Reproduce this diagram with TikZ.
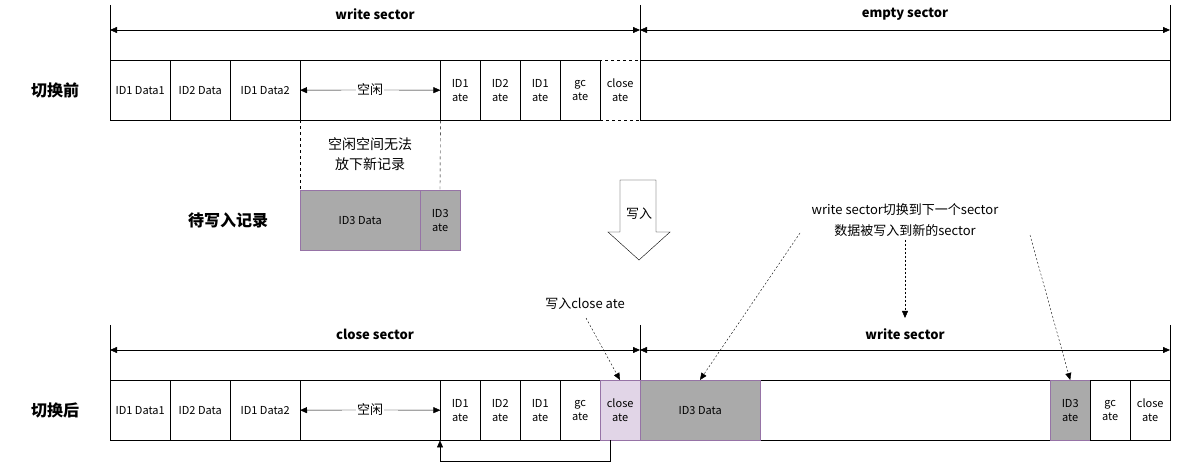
\documentclass[tikz,border=0pt]{standalone}
\usepackage{fontspec}
\setmainfont{Noto Sans CJK SC}
\usetikzlibrary{arrows.meta}
\definecolor{pur}{HTML}{9673A6}
\definecolor{lpur}{HTML}{E1D5E7}
\definecolor{gr}{HTML}{AAAAAA}
\begin{document}
\begin{tikzpicture}[x=1pt,y=-1pt,
  cell/.style={draw,anchor=north west,minimum height=60pt,inner sep=0pt,align=center,font=\fontsize{11}{14}\selectfont},
  gcell/.style={cell,fill=gr,draw=pur},
  tip/.style={-{Triangle[length=7pt,width=6pt]}},
  dim/.style={{Triangle[length=7pt,width=6pt]}-{Triangle[length=7pt,width=6pt]}},
  lab/.style={font=\fontsize{13}{15}\selectfont\bfseries},
  big/.style={font=\fontsize{16}{18}\selectfont\bfseries},
  txt/.style={font=\fontsize{13}{15}\selectfont,align=center},
  dot/.style={dash pattern=on 2pt off 2pt,-{Triangle[length=7pt,width=6pt]}}]
\useasboundingbox (0,0) rectangle (1181,470);
\foreach \r/\y in {a/60,b/380}{
  \node[cell,minimum width=60pt] (\r1) at (110,\y) {ID1 Data1};
  \node[cell,minimum width=60pt] (\r2) at (170,\y) {ID2 Data};
  \node[cell,minimum width=70pt] (\r3) at (230,\y) {ID1 Data2};
  \node[cell,minimum width=140pt] (\r4) at (300,\y) {};
  \node[cell,minimum width=40pt] (\r5) at (440,\y) {ID1\\ate};
  \node[cell,minimum width=40pt] (\r6) at (480,\y) {ID2\\ate};
  \node[cell,minimum width=40pt] (\r7) at (520,\y) {ID1\\ate};
  \node[cell,minimum width=40pt] (\r8) at (560,\y) {gc\\ate};
  \node[txt,fill=white,inner sep=1pt] (\r f) at (370,\y+30) {空闲};
  \draw[tip] (\r f.west) -- (\r4.west);
  \draw[tip] (\r f.east) -- (\r4.east);
}
\node[cell,minimum width=40pt,dashed] (a9) at (600,60) {close\\ate};
\node[cell,minimum width=530pt] (a10) at (640,60) {};
\node[cell,minimum width=40pt,fill=lpur,draw=pur] (b9) at (600,380) {close\\ate};
\node[cell,minimum width=530pt] (b10) at (640,380) {};
\node[gcell,minimum width=120pt] (b11) at (640,380) {ID3 Data};
\node[gcell,minimum width=40pt] (b12) at (1050,380) {ID3\\ate};
\node[cell,minimum width=40pt] (b13) at (1090,380) {gc\\ate};
\node[cell,minimum width=40pt,dashed] (b14) at (1130,380) {close\\ate};
% dimension lines
\foreach \y/\t in {0/a,320/b}{
  \coordinate (\t L) at (110,\y+5); \coordinate (\t M) at (640,\y+5); \coordinate (\t R) at (1170,\y+5);
  \coordinate (\t LA) at (110,\y+30); \coordinate (\t MA) at (640,\y+30); \coordinate (\t RA) at (1170,\y+30);
  \draw (\t L) -- (110,\y+60); \draw (\t M) -- (640,\y+60); \draw (\t R) -- (1170,\y+60);
  \draw[dim] (\t LA) -- (\t MA);
  \draw[dim] (\t MA) -- (\t RA);
}
\node[lab] (t1) at (375,14) {write sector};
\node[lab] (t2) at (905,14) {empty sector};
\node[lab] (t3) at (375,334) {close sector};
\node[lab] (t4) at (905,334) {write sector};
\node[big] (s1) at (55,90) {切换前};
\node[big] (s2) at (228,220) {待写入记录};
\node[big] (s3) at (55,410) {切换后};
% pending record
\node[gcell,minimum width=120pt] (p1) at (300,190) {ID3 Data};
\node[gcell,minimum width=40pt] (p2) at (420,190) {ID3\\ate};
\draw[dashed] (a4.south west) -- (p1.north west);
\draw[dashed] (a4.south east) -- (440,190);
\node[txt,font=\fontsize{14}{20}\selectfont] (nt) at (370,154) {空闲空间无法\\放下新记录};
% big arrow
\draw (620,180) -- (656,180) -- (656,232) -- (670,232) -- (639,260) -- (608,232) -- (620,232) -- cycle;
\node[txt] (bt) at (639,214) {写入};
\node[txt,font=\fontsize{13}{21}\selectfont] (info) at (905,220) {write sector切换到下一个sector\\数据被写入到新的sector};
\node[txt] (wc) at (585,304) {写入close ate};
\draw[dot] (586,318) -- (620,380);
\draw[dot] (800,233) -- (700,380);
\draw[dot] (905,240) -- (905,318);
\draw[dot] (1030,235) -- (b12.north);
\draw[tip] (610,440) -- (610,461) -- (440,461) -- (b5.south west);
\end{tikzpicture}
\end{document}
